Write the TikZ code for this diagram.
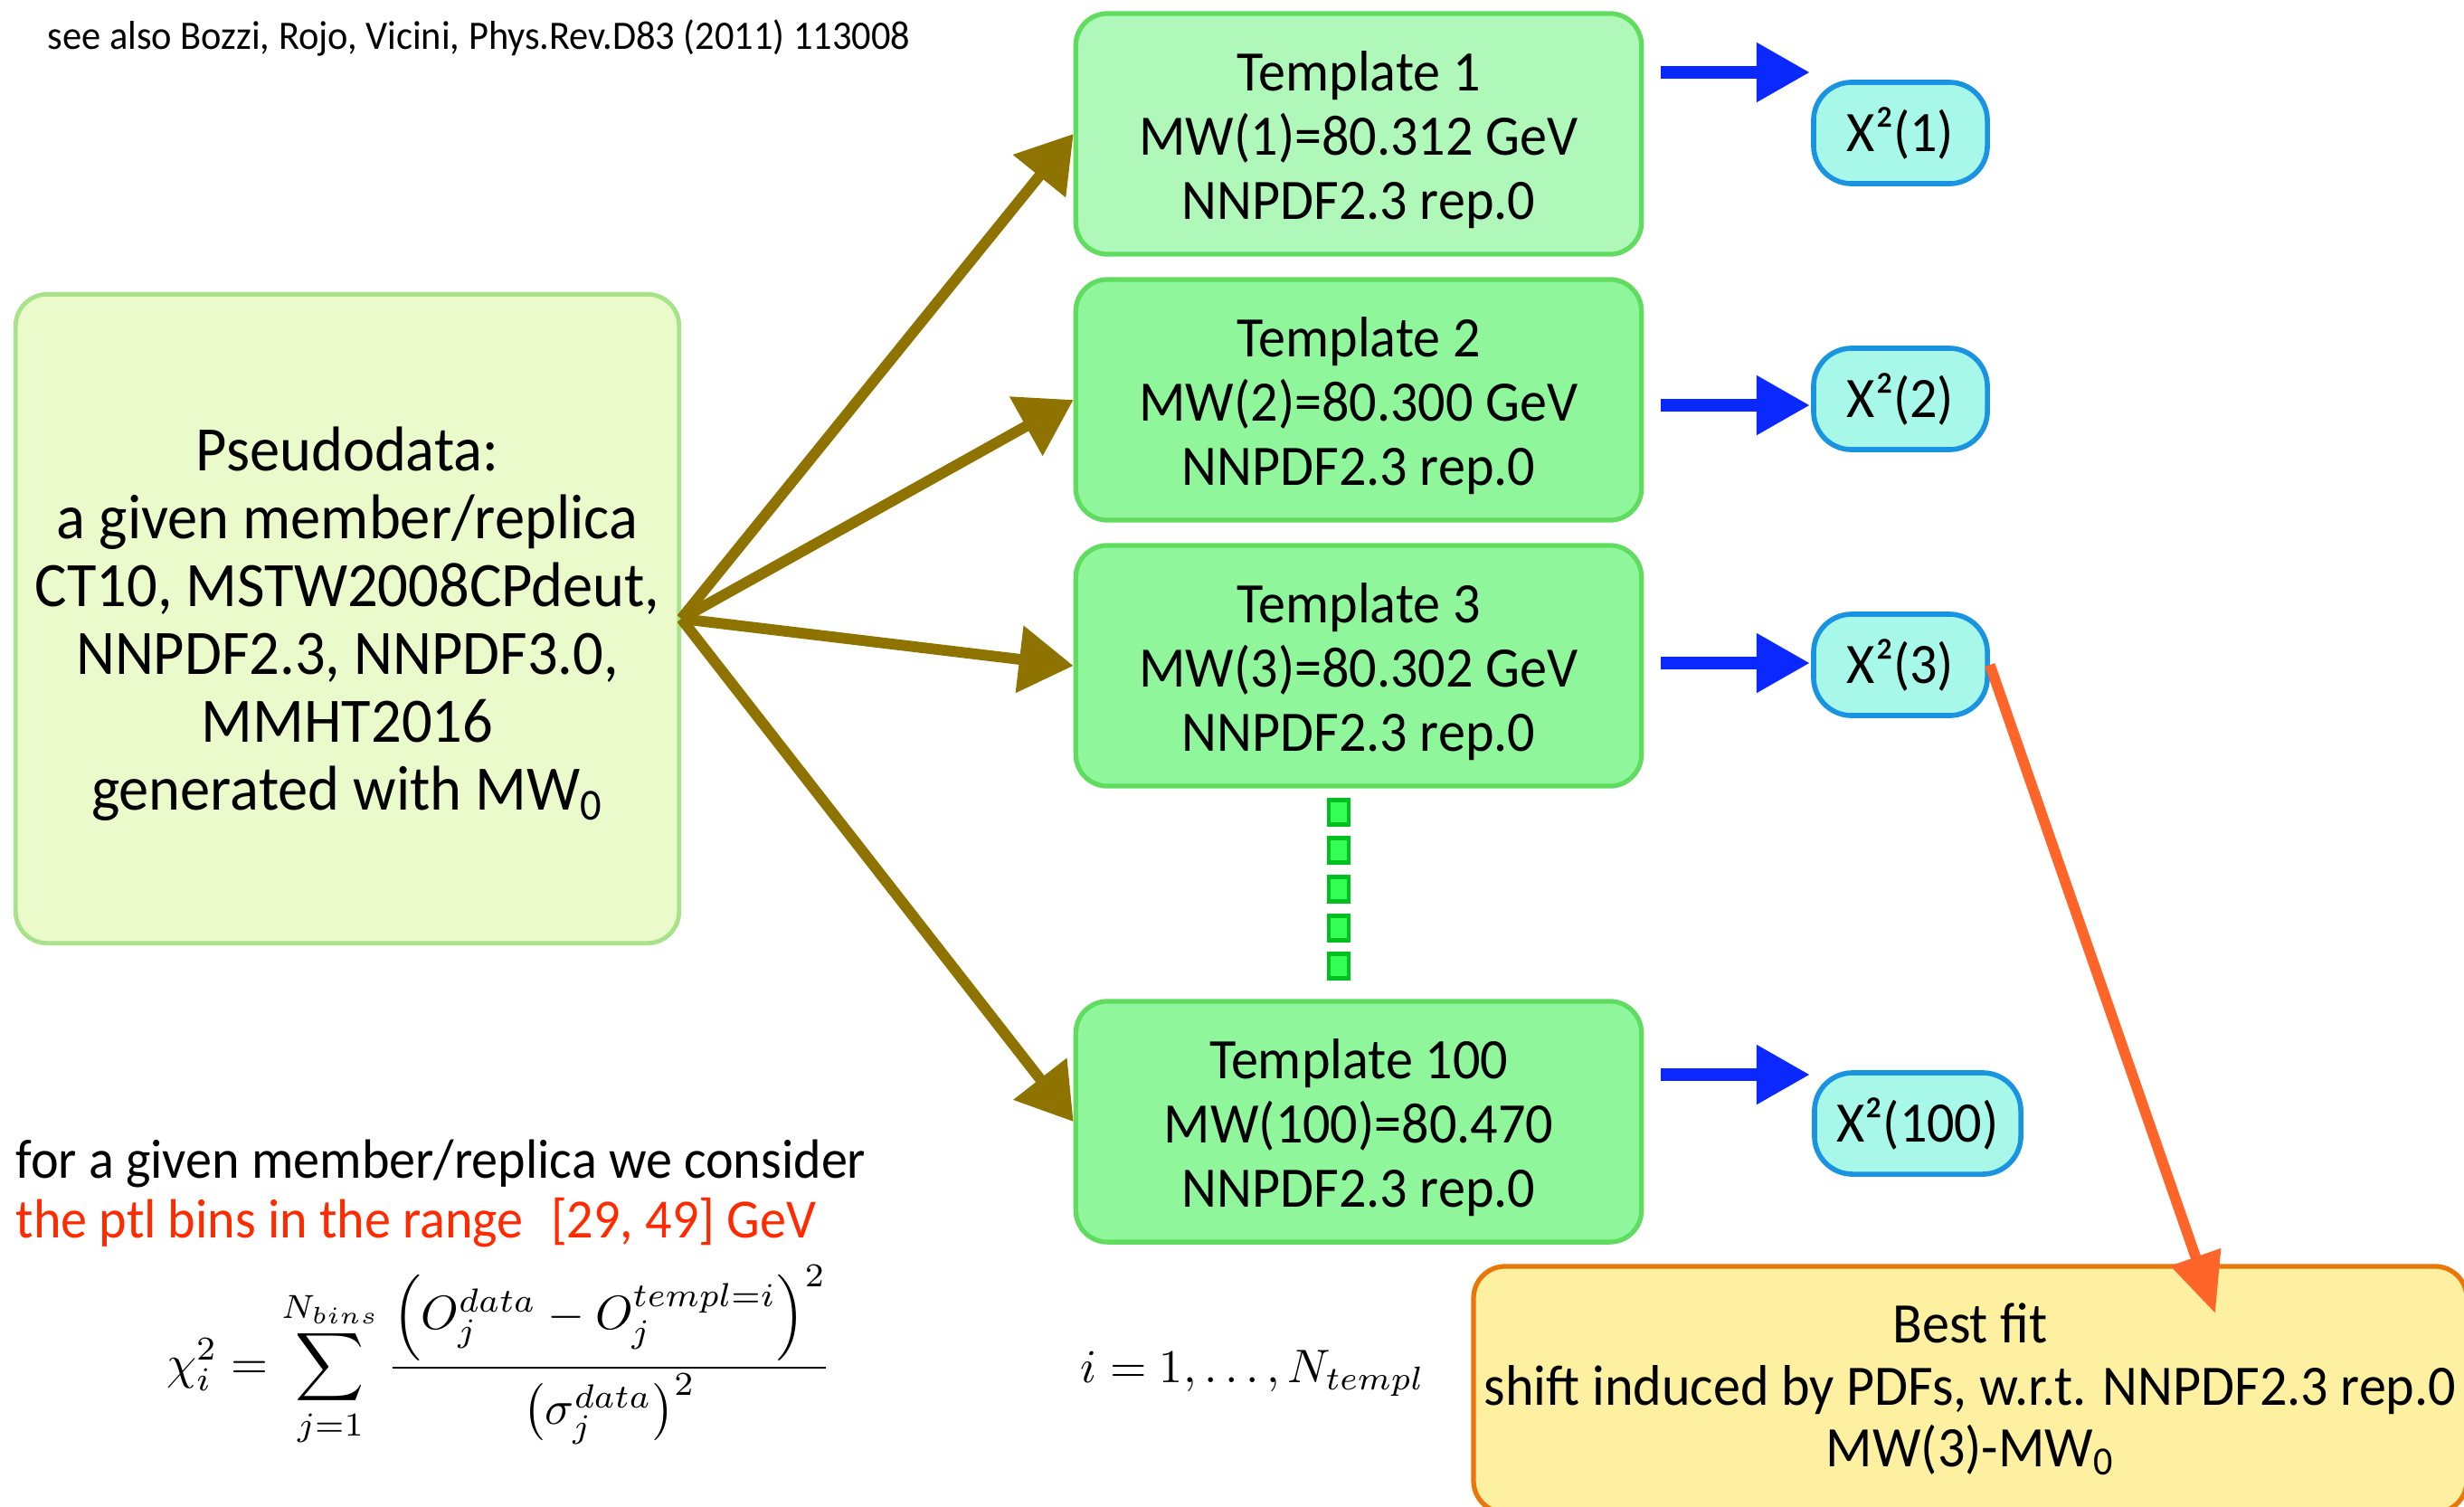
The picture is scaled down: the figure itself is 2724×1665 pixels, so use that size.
\documentclass[tikz,border=0pt]{standalone}
\usepackage[no-math]{fontspec}
\setmainfont{Carlito}[FakeStretch=0.95]
\usepackage{graphicx}
\usetikzlibrary{arrows.meta}
\definecolor{pdFill}{RGB}{234,250,202}
\definecolor{pdBorder}{RGB}{168,226,138}
\definecolor{tOneFill}{RGB}{176,248,186}
\definecolor{tFill}{RGB}{143,246,155}
\definecolor{tBorder}{RGB}{96,220,96}
\definecolor{cFill}{RGB}{168,248,234}
\definecolor{cBorder}{RGB}{26,148,224}
\definecolor{bfFill}{RGB}{253,240,160}
\definecolor{bfBorder}{RGB}{232,120,10}
\definecolor{oliveArrow}{RGB}{143,115,0}
\definecolor{blueArrow}{RGB}{10,40,255}
\definecolor{orangeArrow}{RGB}{255,100,40}
\definecolor{redText}{RGB}{255,42,0}
\definecolor{dotFill}{RGB}{51,255,85}
\definecolor{dotBorder}{RGB}{0,192,32}
\newcommand{\lowertxt}[1]{\raisebox{-0.09cm}[\height][\depth]{\begin{tabular}{@{}c@{}}#1\end{tabular}}}
\begin{document}
\begin{tikzpicture}[x=0.01cm,y=-0.01cm,
  txt/.style={font=\fontsize{18}{20.2}\selectfont, align=center, text=black},
  pdbox/.style={draw=pdBorder, fill=pdFill, line width=1.4pt, rounded corners=0.35cm,
    minimum width=7.33cm, minimum height=7.17cm, txt, font=\fontsize{19.9}{21.3}\selectfont},
  tbox/.style={draw=tBorder, fill=tFill, line width=1.5pt, rounded corners=0.35cm,
    minimum width=6.25cm, minimum height=2.66cm, txt},
  cbox/.style={draw=cBorder, fill=cFill, line width=1.6pt, rounded corners=0.42cm,
    minimum width=1.92cm, minimum height=1.12cm, txt, inner sep=0pt},
  bfbox/.style={draw=bfBorder, fill=bfFill, line width=1.5pt, rounded corners=0.35cm,
    minimum width=10.8cm, minimum height=2.72cm, txt, font=\fontsize{18}{19.5}\selectfont},
  oarrow/.style={draw=oliveArrow, line width=3.4pt, -{Triangle[length=0.6cm,width=0.72cm]}},
  barrow/.style={draw=blueArrow, line width=4pt, -{Triangle[length=0.59cm,width=0.62cm]}},
  rarrow/.style={draw=orangeArrow, line width=3.3pt, -{Triangle[length=0.66cm,width=0.56cm]}},
  dotsq/.style={draw=dotBorder, fill=dotFill, line width=1.4pt, minimum width=0.22cm, minimum height=0.27cm, inner sep=0pt},
  plain/.style={font=\fontsize{17.4}{20.2}\selectfont, inner sep=0pt}
]
\useasboundingbox (0,0) rectangle (2724,1665);
\clip (0,0) rectangle (2724,1665);

% citation
\node[anchor=west, inner sep=0pt, font=\fontsize{12.7}{15}\selectfont] (cite) at (52,42)
  {see also Bozzi, Rojo, Vicini, Phys.Rev.D83 (2011) 113008};

% pseudodata
\node[pdbox] (pd) at (384,684) {\lowertxt{Pseudodata:\\a given member/replica\\CT10, MSTW2008CPdeut,\\NNPDF2.3, NNPDF3.0,\\MMHT2016\\generated with MW\textsubscript{0}}};

% templates
\node[tbox, fill=tOneFill] (t1) at (1502,148) {\lowertxt{Template 1\\MW(1)=80.312 GeV\\NNPDF2.3 rep.0}};
\node[tbox] (t2) at (1502,442) {\lowertxt{Template 2\\MW(2)=80.300 GeV\\NNPDF2.3 rep.0}};
\node[tbox] (t3) at (1502,736) {\lowertxt{Template 3\\MW(3)=80.302 GeV\\NNPDF2.3 rep.0}};
\node[tbox] (t100) at (1502,1240) {\lowertxt{Template 100\\MW(100)=80.470\\NNPDF2.3 rep.0}};

% chi boxes
\node[cbox] (c1) at (2101,147) {Χ²(1)};
\node[cbox] (c2) at (2101,441) {Χ²(2)};
\node[cbox] (c3) at (2101,735) {Χ²(3)};
\node[cbox, minimum width=2.28cm] (c100) at (2120,1242) {Χ²(100)};

% dotted squares
\foreach \k/\yy in {1/898,2/940,3/983,4/1026,5/1068}{
  \node[dotsq] (dot\k) at (1480,\yy) {};
}

% best fit
\node[bfbox] (bf) at (2178,1536) {Best fit\\shift induced by PDFs, w.r.t. NNPDF2.3 rep.0\\MW(3)-MW\textsubscript{0}};

% olive arrows
\draw[oarrow] (pd.east) -- (t1.west);
\draw[oarrow] (pd.east) -- (t2.west);
\draw[oarrow] (pd.east) -- (t3.west);
\draw[oarrow] (pd.east) -- (t100.west);

% blue arrows
\coordinate (b1s) at (1836,80);   \coordinate (b1e) at (2001,80);
\coordinate (b2s) at (1836,448);  \coordinate (b2e) at (2001,448);
\coordinate (b3s) at (1836,733);  \coordinate (b3e) at (2001,733);
\coordinate (b4s) at (1836,1188); \coordinate (b4e) at (2001,1188);
\draw[barrow] (b1s) -- (b1e);
\draw[barrow] (b2s) -- (b2e);
\draw[barrow] (b3s) -- (b3e);
\draw[barrow] (b4s) -- (b4e);

% orange arrow
\coordinate (bfin) at (2449,1452);
\draw[rarrow] (c3.east) -- (bfin);

% notes
\node[plain, anchor=west] (note1) at (17,1286) {for a given member/replica we consider};
\node[plain, anchor=west, text=redText] (note2) at (17,1352) {the ptl bins in the range\enspace[29, 49] GeV};

% formulas
\node[inner sep=0pt] (eq) at (552,1499) {\scalebox{1.5}{$\displaystyle \chi_i^2=\sum_{j=1}^{N_{bins}}\frac{\left(O_j^{data}-O_j^{templ=i}\right)^2}{\left(\sigma_j^{data}\right)^2}$}};
\node[inner sep=0pt] (irange) at (1385,1518) {\scalebox{1.48}{$i=1,\ldots,N_{templ}$}};
\end{tikzpicture}
\end{document}
